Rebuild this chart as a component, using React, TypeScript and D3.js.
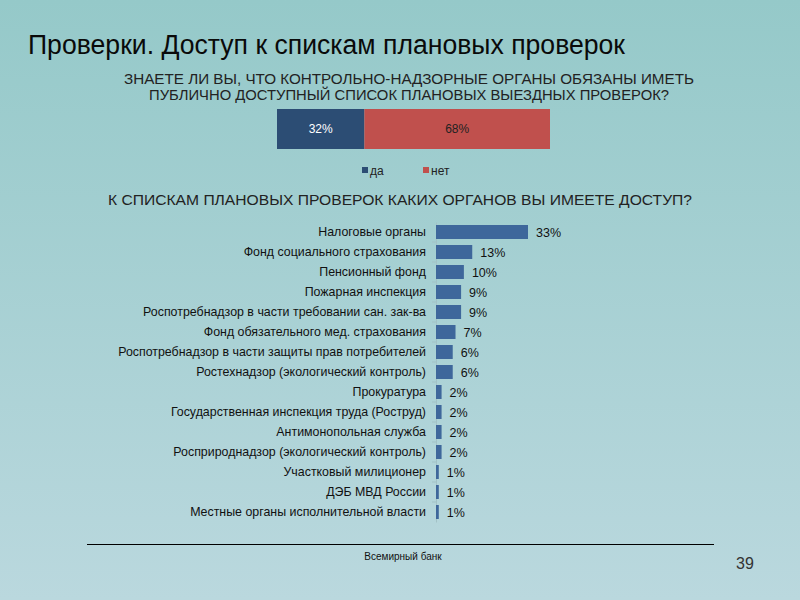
import { useRef, useEffect } from "react";
import * as d3 from "d3";

const title = "Проверки. Доступ к спискам плановых проверок";
const q1Lines = [
  "ЗНАЕТЕ ЛИ ВЫ, ЧТО КОНТРОЛЬНО-НАДЗОРНЫЕ ОРГАНЫ ОБЯЗАНЫ ИМЕТЬ",
  "ПУБЛИЧНО ДОСТУПНЫЙ СПИСОК ПЛАНОВЫХ ВЫЕЗДНЫХ ПРОВЕРОК?",
];
const q2 = "К СПИСКАМ ПЛАНОВЫХ ПРОВЕРОК КАКИХ ОРГАНОВ ВЫ ИМЕЕТЕ ДОСТУП?";

const answerNames = ["да", "нет"];
const answerValues = [32, 68];
const answerColors = ["#2c4d74", "#c0504d"];

const organs = [
  "Налоговые органы",
  "Фонд социального страхования",
  "Пенсионный фонд",
  "Пожарная инспекция",
  "Роспотребнадзор в части требовании сан. зак-ва",
  "Фонд обязательного мед. страхования",
  "Роспотребнадзор в части защиты прав потребителей",
  "Ростехнадзор (экологический контроль)",
  "Прокуратура",
  "Государственная инспекция труда (Роструд)",
  "Антимонопольная служба",
  "Росприроднадзор (экологический контроль)",
  "Участковый милиционер",
  "ДЭБ МВД России",
  "Местные органы исполнительной власти",
];
const organValues = [33, 13, 10, 9, 9, 7, 6, 6, 2, 2, 2, 2, 1, 1, 1];

const footer = "Всемирный банк";
const pageNum = "39";

const width = 800;
const height = 600;
const font = "'Liberation Sans', Arial, sans-serif";

const App = () => {
  const svgRef = useRef<SVGSVGElement>(null);

  useEffect(() => {
    document.body.style.margin = "0";
    const svg: any = d3.select(svgRef.current);
    svg.selectAll("*").remove();

    const defs = svg.append("defs");
    const grad = defs.append("linearGradient").attr("id", "bg")
      .attr("x1", 0).attr("y1", 0).attr("x2", 0).attr("y2", 1);
    grad.append("stop").attr("offset", "0%").attr("stop-color", "#95c9c9");
    grad.append("stop").attr("offset", "100%").attr("stop-color", "#bad8de");
    svg.append("rect").attr("width", width).attr("height", height).attr("fill", "url(#bg)");

    // title
    svg.append("text")
      .attr("x", 28).attr("y", 54)
      .attr("textLength", 597).attr("lengthAdjust", "spacingAndGlyphs")
      .style("font-family", font).style("font-size", "27px").attr("fill", "#0a0a0a")
      .text(title);

    // question 1
    const q1Widths = [570, 520];
    q1Lines.forEach((l, i) => {
      svg.append("text")
        .attr("x", 409 - q1Widths[i] / 2).attr("y", 84 + i * 16)
        .attr("textLength", q1Widths[i]).attr("lengthAdjust", "spacingAndGlyphs")
        .style("font-family", font).style("font-size", "15px").attr("fill", "#222")
        .text(l);
    });

    // stacked bar
    const xs = d3.scaleLinear().domain([0, 100]).range([277, 550]);
    const stacked = d3.cumsum(answerValues);
    const starts = answerValues.map((v, i) => stacked[i] - v);
    const g1 = svg.append("g");
    g1.selectAll("rect").data(answerValues).join("rect")
      .attr("x", (_: number, i: number) => xs(starts[i]))
      .attr("y", 109)
      .attr("width", (v: number) => xs(v) - xs(0))
      .attr("height", 40)
      .attr("fill", (_: number, i: number) => answerColors[i]);
    g1.selectAll("text").data(answerValues).join("text")
      .attr("x", (v: number, i: number) => xs(starts[i] + v / 2))
      .attr("y", 133)
      .attr("text-anchor", "middle")
      .style("font-family", font).style("font-size", "12px")
      .attr("fill", (_: number, i: number) => (i === 0 ? "#fff" : "#222"))
      .text((v: number) => `${v}%`);

    // legend
    const legendX = [362, 423];
    answerNames.forEach((n, i) => {
      svg.append("rect").attr("x", legendX[i]).attr("y", 167)
        .attr("width", 6).attr("height", 6).attr("fill", answerColors[i]);
      svg.append("text").attr("x", legendX[i] + 8).attr("y", 175)
        .style("font-family", font).style("font-size", "12px").attr("fill", "#222")
        .text(n);
    });

    // question 2
    svg.append("text")
      .attr("x", 108).attr("y", 205)
      .attr("textLength", 584).attr("lengthAdjust", "spacingAndGlyphs")
      .style("font-family", font).style("font-size", "14px").attr("fill", "#222")
      .text(q2);

    // bar chart
    const x = d3.scaleLinear().domain([0, 33]).range([436, 528]);
    const y = d3.scaleBand().domain(organs).range([222, 522]).paddingInner(0.3).paddingOuter(0.15);

    const yAxis = d3.axisLeft(y).tickSize(0).tickPadding(10).tickFormat((d: string) => d);
    const ga = svg.append("g").attr("transform", `translate(${x(0)},0)`).call(yAxis);
    ga.select(".domain").attr("stroke", "#a3c2c6");
    ga.selectAll("text")
      .style("font-family", font).style("font-size", "12.4px").attr("fill", "#111");

    // small separators between categories
    const step = y.step();
    svg.append("g").selectAll("line").data(organs.slice(1)).join("line")
      .attr("x1", x(0) - 4).attr("x2", x(0))
      .attr("y1", (d: string) => (y(d) as number) - (step - y.bandwidth()) / 2)
      .attr("y2", (d: string) => (y(d) as number) - (step - y.bandwidth()) / 2)
      .attr("stroke", "#a3c2c6");

    svg.append("g").selectAll("rect").data(organValues).join("rect")
      .attr("x", x(0))
      .attr("y", (_: number, i: number) => y(organs[i]))
      .attr("width", (v: number) => x(v) - x(0))
      .attr("height", y.bandwidth())
      .attr("fill", "#3e679b");

    svg.append("g").selectAll("text").data(organValues).join("text")
      .attr("x", (v: number) => x(v) + 8)
      .attr("y", (_: number, i: number) => (y(organs[i]) as number) + y.bandwidth() / 2 + 4.5)
      .style("font-family", font).style("font-size", "12.5px").attr("fill", "#111")
      .text((v: number) => `${v}%`);

    // footer
    svg.append("line").attr("x1", 87).attr("x2", 714).attr("y1", 544.5).attr("y2", 544.5)
      .attr("stroke", "#000").attr("stroke-width", 1);
    svg.append("text").attr("x", 403).attr("y", 560).attr("text-anchor", "middle")
      .style("font-family", font).style("font-size", "10px").attr("fill", "#111")
      .text(footer);
    svg.append("text").attr("x", 745).attr("y", 569).attr("text-anchor", "middle")
      .style("font-family", font).style("font-size", "16px").attr("fill", "#333")
      .text(pageNum);
  }, []);

  return (
    <svg ref={svgRef} width={width} height={height} style={{ display: "block" }} />
  );
};

export default App;
